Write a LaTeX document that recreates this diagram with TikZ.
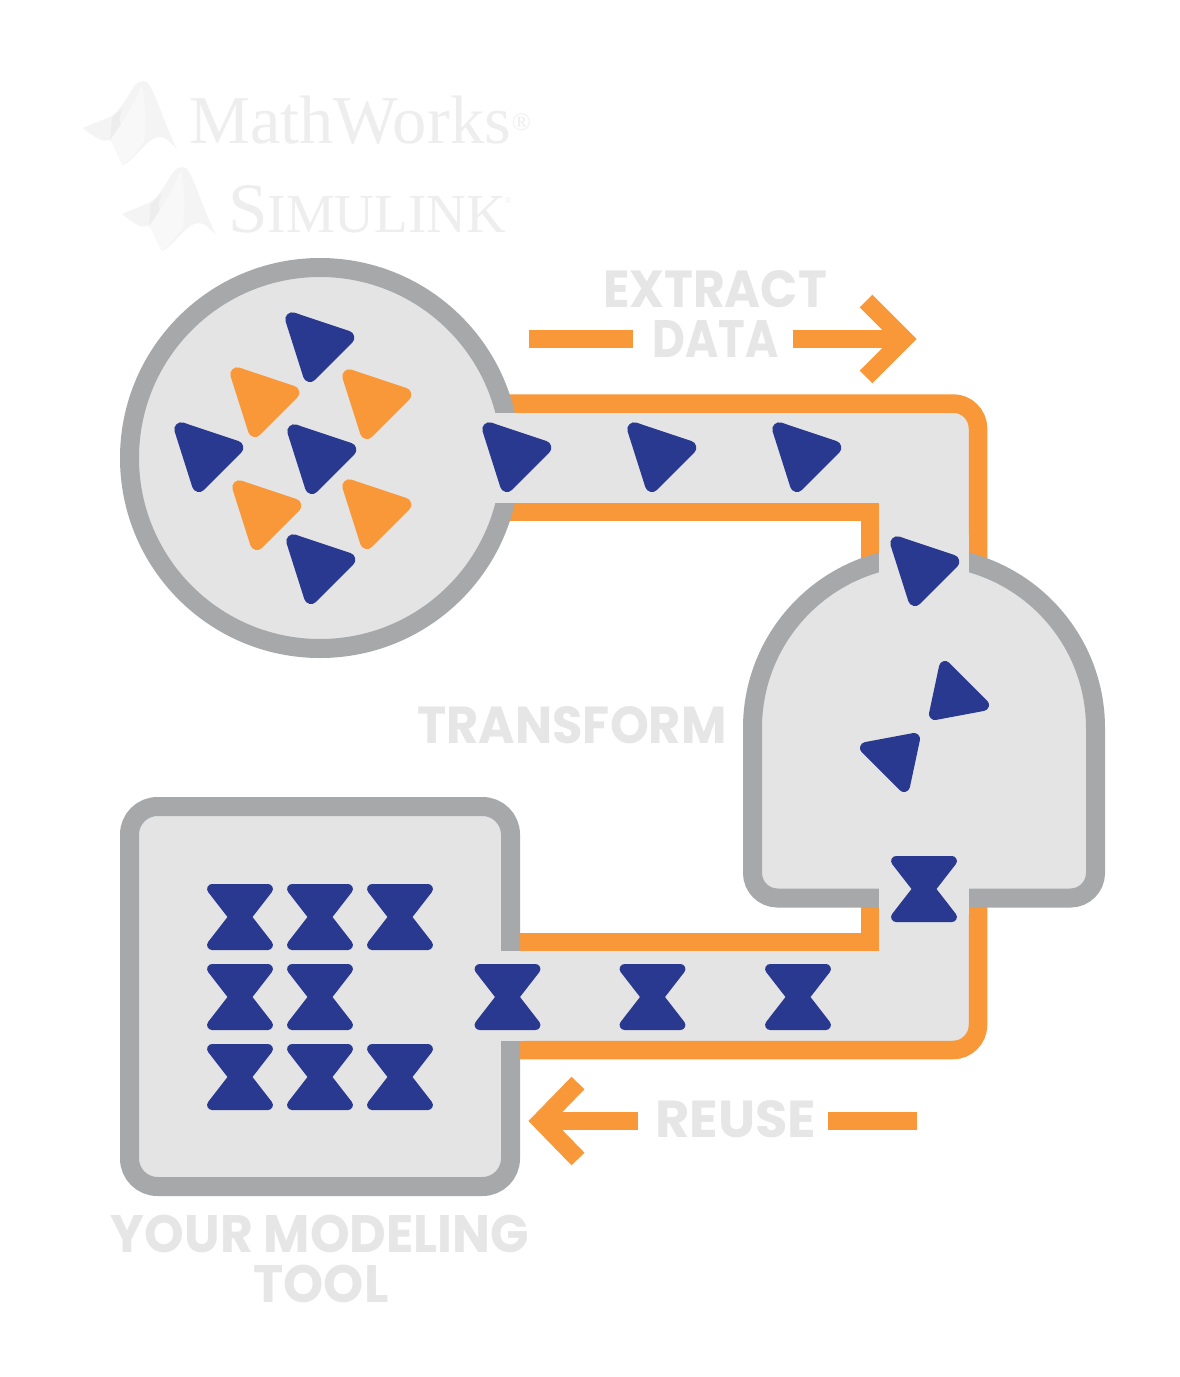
\documentclass[tikz,border=0pt]{standalone}
\usepackage{fontspec}
\setmainfont{Poppins}
\newfontfamily\logofont{Liberation Serif}
\definecolor{panel}{HTML}{E4E4E5}
\definecolor{ringc}{HTML}{A7A8AA}
\definecolor{orangec}{HTML}{F99839}
\definecolor{navyc}{HTML}{2A3990}
\definecolor{labelc}{HTML}{E6E6E6}
\definecolor{logoc}{HTML}{EEEEEE}
\definecolor{logol}{HTML}{F4F4F4}
\definecolor{logom}{HTML}{F8F8F8}
\definecolor{logof}{HTML}{EDEDED}
\newcommand{\fitlabel}[3]{\resizebox{#1pt}{#2pt}{#3}}
\tikzset{
  x=1pt,y=-1pt,
  ringline/.style={draw=ringc,line width=19pt,fill=panel},
  pipeline/.style={draw=orangec,line width=18.5pt},
  flowline/.style={draw=orangec,line width=18pt},
  gapfill/.style={fill=panel},
  biglabel/.style={font=\fontsize{50}{50}\selectfont\bfseries,text=labelc,anchor=base,inner sep=0pt},
  softshape/.style={fill=navyc,draw=navyc,line join=round},
  tri/.pic={\filldraw[fill=#1,draw=#1,line join=round,line width=14pt] (-20.7,-20.7) -- (34.3,-2.3) -- (-3,35) -- cycle;},
  hourglass/.pic={\filldraw[softshape,line width=10pt] (-27.9,-28) -- (27.9,-28) -- (6.17,0) -- (27.9,28) -- (-27.9,28) -- (-6.17,0) -- cycle;},
  membrane/.pic={
    \fill[logol] (83,128) -- (110,117) .. controls (120,112) and (130,92) .. (135,85) .. controls (139,81) and (144,80) .. (148,83) .. controls (155,92) and (165,125) .. (177,149) .. controls (170,142) and (165,136) .. (158,137) .. controls (145,140) and (135,160) .. (123,165) .. controls (118,158) and (115,145) .. (110,140) .. controls (103,142) and (98,140) .. (83,128) -- cycle;
    \fill[logom] (110,140) -- (121,124) .. controls (130,110) and (138,95) .. (142,84) .. controls (146,105) and (146,125) .. (144,142) .. controls (138,150) and (130,160) .. (123,165) .. controls (118,158) and (115,145) .. (110,140) -- cycle;
    \fill[logof] (112,118) -- (123,107) .. controls (120,115) and (118,122) .. (121,124) -- (110,140) -- cycle;
  }
}
\begin{document}
\begin{tikzpicture}
\useasboundingbox (0,0) rectangle (1180,1377);
\fill[white] (0,0) rectangle (1180,1377);
% logos
\pic at (0,0) {membrane};
\pic at (39,86) {membrane};
\node[anchor=base west,inner sep=0pt,text=logoc] (mw) at (189,143) {\logofont\fontsize{68.5}{69}\selectfont MathWorks\hspace{1pt}\raisebox{13pt}{\fontsize{25}{25}\selectfont ®}};
\node[anchor=base west,inner sep=0pt,text=logoc] (sl) at (228,232) {\logofont\fontsize{71}{71}\selectfont S\fontsize{55}{55}\selectfont IMULINK\hspace{-1pt}\raisebox{29pt}{\fontsize{9}{9}\selectfont ®}};
% upper pipe
\fill[panel,rounded corners=25pt] (490,403.5) -- (978,403.5) -- (978,570) -- (870,570) [sharp corners] -- (870,512) -- (490,512) -- cycle;
\draw[pipeline,rounded corners=25pt] (490,403.5) -- (978,403.5) -- (978,570);
\draw[pipeline] (490,512) -- (870,512) -- (870,570);
% lower pipe
\fill[panel,rounded corners=25pt] (510,1050) -- (978,1050) -- (978,900) -- (870,900) [sharp corners] -- (870,942) -- (510,942) -- cycle;
\draw[pipeline] (510,942) -- (870,942) -- (870,900);
\draw[pipeline,rounded corners=25pt] (510,1050) -- (978,1050) -- (978,900);
% containers
\draw[ringline] (320,458) circle (190.5);
\draw[ringline] (777.5,898) arc[start angle=90,end angle=180,radius=25] -- (752.5,728) arc[start angle=180,end angle=360,radius=171.5] -- (1095.5,873) arc[start angle=0,end angle=90,radius=25] -- cycle;
\draw[ringline,rounded corners=28pt] (129.5,806.5) rectangle (510.5,1186.5);
% gaps
\fill[gapfill] (480,413) rectangle (525,503);
\fill[gapfill] (879,535) rectangle (969,595);
\fill[gapfill] (879,880) rectangle (969,915);
\fill[gapfill] (495,951) rectangle (525,1041);
% extract arrow
\draw[flowline] (529,339) -- (633,339);
\draw[flowline] (793,339) -- (904,339);
\draw[flowline] (866,301) -- (904,339) -- (866,377);
% reuse arrow
\draw[flowline] (638,1121) -- (545,1121);
\draw[flowline] (828,1121) -- (917,1121);
\draw[flowline] (578,1083) -- (541,1121) -- (578,1159);
% triangles
\pic at (313,340) {tri=navyc};
\pic at (258,395) {tri=orangec};
\pic at (370,397) {tri=orangec};
\pic at (202,450) {tri=navyc};
\pic at (315,452) {tri=navyc};
\pic at (260,508) {tri=orangec};
\pic at (370,507) {tri=orangec};
\pic at (314,562) {tri=navyc};
\pic at (510,450) {tri=navyc};
\pic at (655,450) {tri=navyc};
\pic at (800,450) {tri=navyc};
\pic at (918,564) {tri=navyc};
\filldraw[softshape,line width=12pt] (945,667) -- (983,705) -- (935,714) -- cycle;
\filldraw[softshape,line width=12pt] (904,786) -- (866,748) -- (914,739) -- cycle;
% hourglasses
\pic at (924,889) {hourglass};
\pic at (798,997) {hourglass};
\pic at (652.5,997) {hourglass};
\pic at (507.5,997) {hourglass};
\foreach \px/\py in {240/917,320/917,400/917,240/997,320/997,240/1077,320/1077,400/1077}{\pic at (\px,\py) {hourglass};}
% labels
\node[biglabel] (extract) at (715,307) {\fitlabel{224}{37}{EXTRACT}};
\node[biglabel] (data) at (715.5,357) {\fitlabel{126}{37}{DATA}};
\node[biglabel] (transform) at (572,743) {\fitlabel{309}{37}{TRANSFORM}};
\node[biglabel] (reuse) at (736,1137) {\fitlabel{161}{37}{REUSE}};
\node[biglabel] (model) at (320,1252) {\fitlabel{418}{37.5}{YOUR MODELING}};
\node[biglabel] (tool) at (321,1302) {\fitlabel{135}{37.5}{TOOL}};
\end{tikzpicture}
\end{document}
